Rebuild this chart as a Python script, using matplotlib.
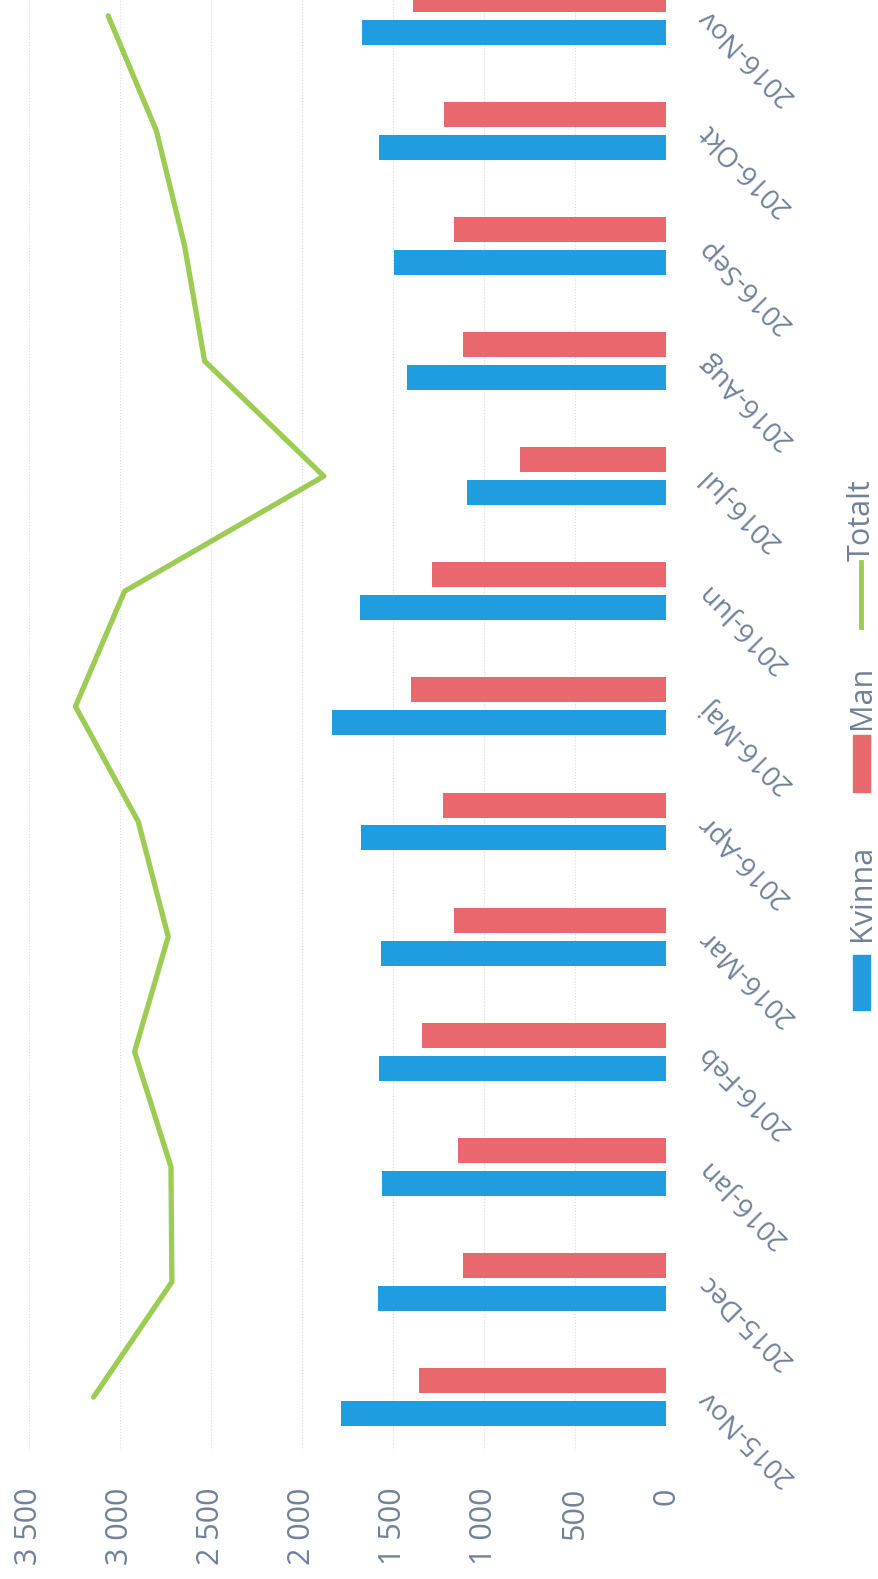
import matplotlib
matplotlib.use('Agg')
import matplotlib.pyplot as plt
from matplotlib.patches import Rectangle
from matplotlib.lines import Line2D

# data
months = ["2015-Nov", "2015-Dec", "2016-Jan", "2016-Feb", "2016-Mar", "2016-Apr", "2016-Maj",
          "2016-Jun", "2016-Jul", "2016-Aug", "2016-Sep", "2016-Okt", "2016-Nov"]
kvinna = [1785, 1585, 1560, 1575, 1565, 1675, 1835, 1680, 1095, 1425, 1495, 1575, 1670]
man = [1355, 1115, 1145, 1340, 1165, 1225, 1400, 1285, 800, 1115, 1165, 1220, 1390]
totalt = [3145, 2715, 2720, 2920, 2735, 2900, 3245, 2975, 1880, 2535, 2645, 2800, 3065]
ticks = [0, 500, 1000, 1500, 2000, 2500, 3000, 3500]
tick_labels = ["0", "500", "1 000", "1 500", "2 000", "2 500", "3 000", "3 500"]

blue = "#1f9de0"
red = "#e8686e"
green = "#9dcc55"
txt = "#72809a"
plt.rcParams['font.family'] = ['Open Sans', 'DejaVu Sans']

fig = plt.figure(figsize=(8.79, 15.79), dpi=100)
ax = fig.add_axes([29/879, 1 - 1450/1579, 637/879, 1450/1579])

pos = list(range(len(months)))
ax.barh([p - 0.143 for p in pos], kvinna, height=0.217, color=blue, zorder=2)
ax.barh([p + 0.143 for p in pos], man, height=0.217, color=red, zorder=2)
ax.plot(totalt, pos, color=green, lw=3.8, zorder=3, solid_capstyle='round')

ax.set_xlim(3500, 0)
ax.set_ylim(-0.46, 12.137)
ax.set_xticks(ticks)
ax.set_xticklabels(tick_labels)
ax.tick_params(axis='x', length=0, labelrotation=90, labelsize=22, labelcolor=txt, pad=27)
ax.set_yticks([])
for s in ax.spines.values():
    s.set_visible(False)
ax.grid(axis='x', color='#dcdcdc', lw=0.8, ls=':', zorder=0)

# category labels on the right side, rotated like the photo
for p, m in zip(pos, months):
    ax.text(-200, p + 0.03, m, rotation=135, rotation_mode='anchor', ha='right', va='center',
            fontsize=20, color=txt, clip_on=False)

# legend drawn by hand (rotated)
fig.patches.append(Rectangle((853/879, 1 - 1010/1579), 17/879, 55/1579,
                             transform=fig.transFigure, color=blue))
fig.text(862/879, 1 - 893/1579, "Kvinna", rotation=90, ha='center', va='center',
         fontsize=22, color=txt)
fig.patches.append(Rectangle((853/879, 1 - 792/1579), 17/879, 57/1579,
                             transform=fig.transFigure, color=red))
fig.text(862/879, 1 - 697/1579, "Man", rotation=90, ha='center', va='center',
         fontsize=22, color=txt)
fig.lines.append(Line2D([861/879, 861/879], [1 - 627/1579, 1 - 562/1579],
                        transform=fig.transFigure, color=green, lw=3.5))
fig.text(862/879, 1 - 520/1579, "Totalt", rotation=90, ha='center', va='center',
         fontsize=22, color=txt)

fig.savefig("out.png", dpi=100)
